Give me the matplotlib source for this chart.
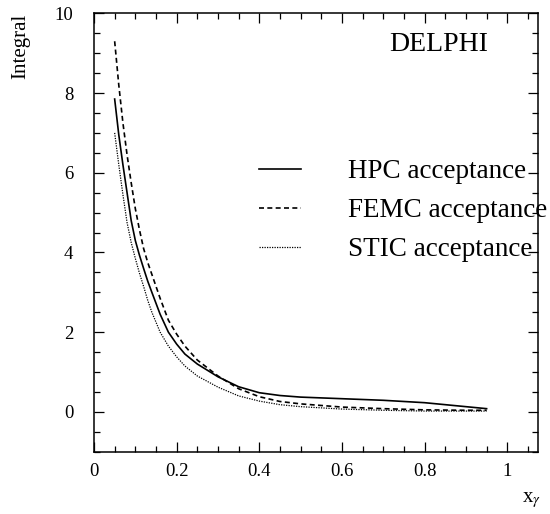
import matplotlib
matplotlib.use('Agg')
import matplotlib.pyplot as plt
from matplotlib.ticker import MultipleLocator

plt.rcParams['font.family'] = ['Liberation Serif', 'DejaVu Serif']
plt.rcParams['mathtext.fontset'] = 'stix'

# values
x_gamma = [0.05, 0.06, 0.07, 0.08, 0.09, 0.10, 0.11, 0.12, 0.13, 0.14, 0.16, 0.18, 0.20,
           0.22, 0.25, 0.30, 0.35, 0.40, 0.45, 0.50, 0.60, 0.70, 0.80, 0.90, 0.95]
hpc = [7.85, 6.95, 6.2, 5.5, 4.8, 4.3, 3.93, 3.6, 3.28, 3.0, 2.45, 2.0, 1.70,
       1.45, 1.2, 0.88, 0.63, 0.48, 0.41, 0.37, 0.33, 0.29, 0.23, 0.13, 0.08]
femc = [9.3, 8.2, 7.25, 6.45, 5.75, 5.1, 4.57, 4.1, 3.75, 3.45, 2.85, 2.3, 1.95,
        1.65, 1.3, 0.9, 0.58, 0.38, 0.26, 0.2, 0.12, 0.08, 0.05, 0.04, 0.04]
stic = [7.0, 6.2, 5.45, 4.75, 4.25, 3.85, 3.48, 3.15, 2.8, 2.5, 2.0, 1.65, 1.38,
        1.15, 0.9, 0.62, 0.4, 0.27, 0.18, 0.13, 0.07, 0.04, 0.02, 0.02, 0.02]
labels = ['HPC acceptance', 'FEMC acceptance', 'STIC acceptance']

fig = plt.figure(figsize=(5.5, 5.14), dpi=100)
ax = fig.add_axes([0.1709, 0.1212, 0.8078, 0.8528])

ax.plot(x_gamma, hpc, color='black', lw=1.2, ls='-', label=labels[0])
ax.plot(x_gamma, femc, color='black', lw=1.2, ls=(0, (3, 2)), label=labels[1])
ax.plot(x_gamma, stic, color='black', lw=0.9, ls=(0, (1, 1)), label=labels[2])

ax.set_xlim(0, 1.075)
ax.set_ylim(-1, 10)
ax.xaxis.set_minor_locator(MultipleLocator(0.05))
ax.yaxis.set_minor_locator(MultipleLocator(0.5))
ax.set_xticks([0, 0.2, 0.4, 0.6, 0.8, 1.0])
ax.set_xticklabels(['0', '0.2', '0.4', '0.6', '0.8', '1'])
ax.set_yticks([0, 2, 4, 6, 8, 10])
ax.set_yticklabels(['0', '2', '4', '6', '8', '10'])
ax.tick_params(which='both', direction='in', top=True, right=True, labelsize=13.5, width=0.9)
ax.tick_params(which='major', length=7)
ax.tick_params(axis='x', which='major', pad=8)
ax.tick_params(axis='y', which='major', pad=15)
ax.tick_params(which='minor', length=4)
for s in ax.spines.values():
    s.set_linewidth(1.1)

fig.text(0.038, 0.974, 'Integral', rotation=90, ha='center', va='top', fontsize=15)
fig.text(0.967, 0.027, r'x$_\gamma$', ha='center', va='center', fontsize=15)
ax.text(0.776, 0.93, 'DELPHI', transform=ax.transAxes, ha='center', va='center', fontsize=20)

leg = ax.legend(loc='upper left', bbox_to_anchor=(0.371, 0.667), frameon=False,
                fontsize=19.5, handlelength=1.55, handletextpad=1.75, labelspacing=0.52,
                borderaxespad=0, borderpad=0)
leg.set_zorder(5)

fig.savefig('out.png', dpi=100)
